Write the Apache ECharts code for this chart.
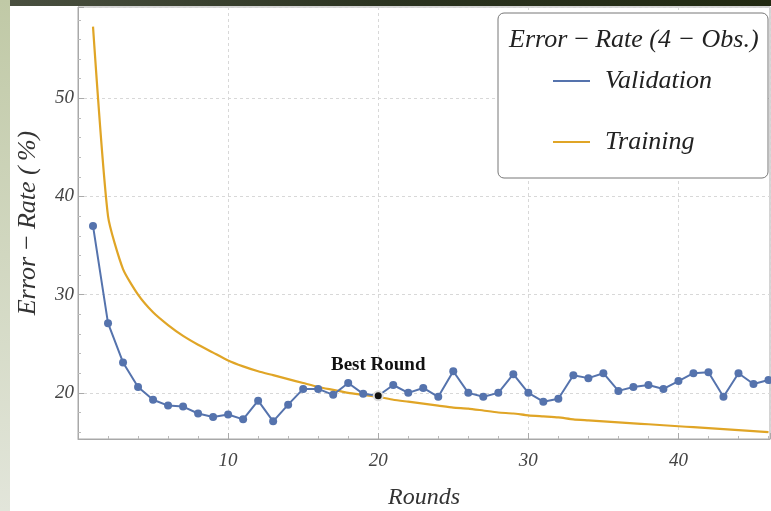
<!DOCTYPE html>
<html>
<head>
<meta charset="utf-8">
<script src="https://cdn.jsdelivr.net/npm/echarts@6/dist/echarts.min.js"></script>
<style>html,body{margin:0;padding:0;background:#fff}#c{width:771px;height:511px}</style>
</head>
<body>
<div id="c"></div>
<script>
const rounds = [1,2,3,4,5,6,7,8,9,10,11,12,13,14,15,16,17,18,19,20,21,22,23,24,25,26,27,28,29,30,31,32,33,34,35,36,37,38,39,40,41,42,43,44,45,46];
const validation = [37.0,27.1,23.1,20.6,19.3,18.7,18.6,17.9,17.55,17.8,17.3,19.2,17.1,18.8,20.4,20.4,19.8,21.0,19.9,19.7,20.8,20.0,20.5,19.6,22.2,20.0,19.6,20.0,21.9,20.0,19.1,19.4,21.8,21.5,22.0,20.2,20.6,20.8,20.4,21.2,22.0,22.1,19.6,22.0,20.9,21.3];
const training = [57.3,38.0,32.6,30.0,28.2,26.9,25.8,24.9,24.1,23.3,22.7,22.2,21.8,21.4,21.0,20.6,20.3,20.0,19.8,19.6,19.3,19.1,18.9,18.7,18.5,18.4,18.2,18.0,17.9,17.7,17.6,17.5,17.3,17.2,17.1,17.0,16.9,16.8,16.7,16.6,16.5,16.4,16.3,16.2,16.1,16.0];
const bestRound = 20;
const xTicks = [10,20,30,40];
const yTicks = [20,30,40,50];

const serif = '"Liberation Serif","DejaVu Serif",serif';
const valData = rounds.map((r,i)=>{
  const d = {value:[r, validation[i]]};
  if (r === bestRound) {
    d.symbolSize = 9;
    d.itemStyle = {color:'#111', borderColor:'#ddd', borderWidth:2};
    d.label = {show:true, position:'top', distance:16, formatter:'Best Round',
      fontFamily:serif, fontWeight:'bold', fontSize:19, color:'#111'};
  }
  return d;
});
const trData = rounds.map((r,i)=>[r, training[i]]);

const chart = echarts.init(document.getElementById('c'), null, {renderer:'canvas'});
chart.setOption({
  animation:false,
  backgroundColor:'#ffffff',
  grid:{left:78, right:1, top:7, bottom:72, containLabel:false, outerBoundsMode:'none',
        show:true, borderColor:'#a8a8a8', borderWidth:1, backgroundColor:'transparent'},
  xAxis:{
    type:'value', min:0, max:46.1,
    name:'Rounds', nameLocation:'middle', nameGap:47,
    nameTextStyle:{fontFamily:serif, fontStyle:'italic', fontSize:24, color:'#333'},
    axisLine:{show:true, lineStyle:{color:'#a8a8a8'}},
    axisTick:{show:true, inside:true, length:6, lineStyle:{color:'#aaa'}},
    minorTick:{show:true, splitNumber:5, length:3, lineStyle:{color:'#bbb'}},
    axisLabel:{fontFamily:serif, fontStyle:'italic', fontSize:19, color:'#444', margin:12,
      formatter:v=> xTicks.indexOf(v)>=0 ? String(v) : '' , showMaxLabel:false},
    splitLine:{show:true, lineStyle:{color:'#d8d8d8', type:[3,3]}}
  },
  yAxis:{
    type:'value', min:15.3, max:59.3,
    name:'Error\u2009\u2212\u2009Rate (\u2009%)', nameLocation:'middle', nameGap:37,
    nameTextStyle:{fontFamily:serif, fontStyle:'italic', fontSize:26, color:'#333'},
    axisLine:{show:true, lineStyle:{color:'#a8a8a8'}},
    axisTick:{show:true, inside:true, length:6, lineStyle:{color:'#aaa'}},
    minorTick:{show:true, splitNumber:5, length:3, lineStyle:{color:'#bbb'}},
    axisLabel:{fontFamily:serif, fontStyle:'italic', fontSize:19, color:'#444', margin:4,
      formatter:v=> yTicks.indexOf(Math.round(v*10)/10)>=0 ? String(Math.round(v)) : '', showMinLabel:false, showMaxLabel:false},
    splitLine:{show:true, lineStyle:{color:'#d8d8d8', type:[3,3]}}
  },
  legend:{
    orient:'vertical', left:548, top:63, itemGap:35,
    icon:'rect', itemWidth:37, itemHeight:2,
    textStyle:{fontFamily:serif, fontStyle:'italic', fontSize:26, color:'#222', padding:[0,0,0,10]},
    data:['Validation','Training']
  },
  series:[
    {name:'Training', type:'line', data:trData, showSymbol:false, smooth:0.2, z:2,
     lineStyle:{color:'#E0A526', width:2.2}, itemStyle:{color:'#E0A526'}},
    {name:'Validation', type:'line', data:valData, symbol:'circle', symbolSize:8, z:3,
     lineStyle:{color:'#5573ad', width:2}, itemStyle:{color:'#5573ad'}}
  ],
  graphic:[
    {type:'rect', shape:{x:498, y:13, width:270, height:165, r:6}, z:1,
     style:{fill:'#fff', stroke:'#777', lineWidth:1}},
    {type:'text', left:509, top:27, z:2,
     style:{text:'Error\u2009\u2212\u2009Rate (4 \u2212 Obs.)', fontFamily:serif, fontStyle:'italic', fontSize:26, fill:'#222'}},
    {type:'rect', shape:{x:0, y:0, width:771, height:6}, z:10,
     style:{fill:new echarts.graphic.LinearGradient(0,0,1,0,[{offset:0,color:'#4a5040'},{offset:0.5,color:'#2b3320'},{offset:1,color:'#222a12'}])}},
    {type:'rect', shape:{x:0, y:0, width:10, height:511}, z:11,
     style:{fill:new echarts.graphic.LinearGradient(0,0,0,1,[{offset:0,color:'#c0c9a6'},{offset:1,color:'#e2e5da'}])}}
  ]
});
</script>
</body>
</html>
